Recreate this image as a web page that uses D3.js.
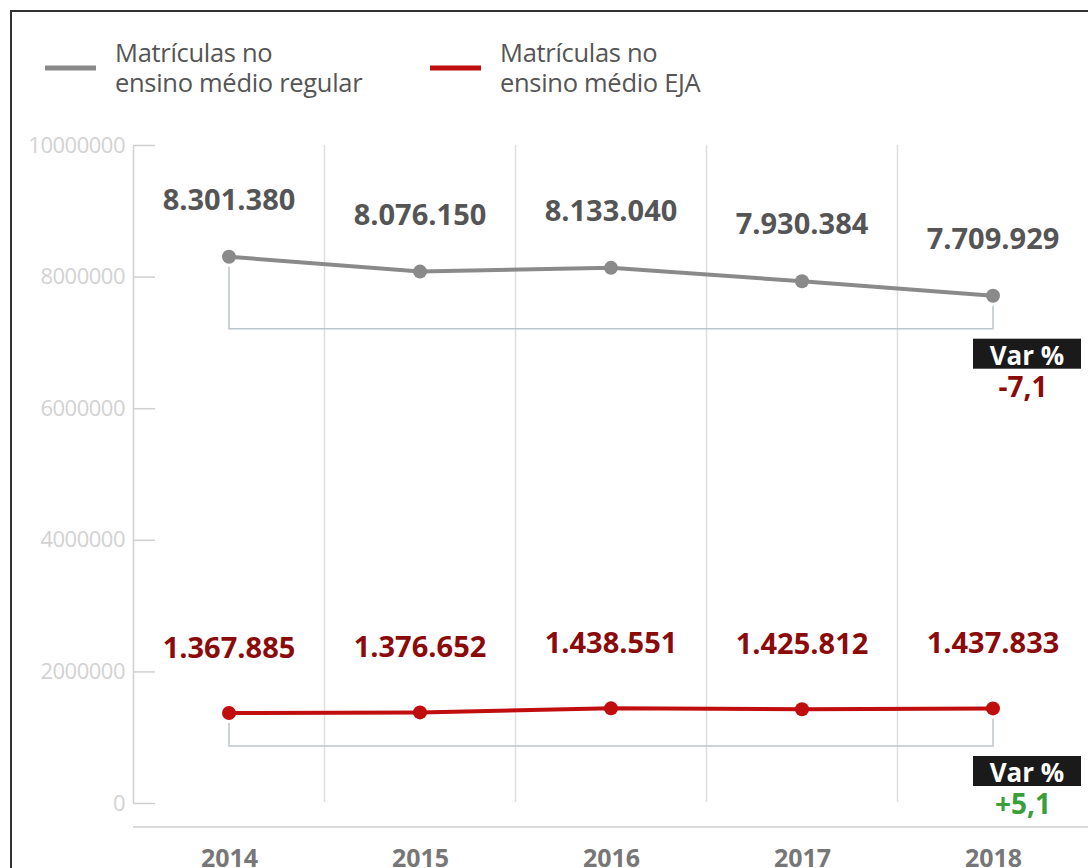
<!DOCTYPE html>
<html>
<head>
<meta charset="utf-8">
<script src="https://cdn.jsdelivr.net/npm/d3@7"></script>
<style>
  body { margin: 0; background: #fff; }
  svg { display: block; font-family: "Open Sans", sans-serif; }
</style>
</head>
<body>
<svg id="chart" width="1088" height="868"></svg>
<script>
// data
var years = ["2014", "2015", "2016", "2017", "2018"];
var regular = [8301380, 8076150, 8133040, 7930384, 7709929];
var eja = [1367885, 1376652, 1438551, 1425812, 1437833];
var yTicks = [0, 2000000, 4000000, 6000000, 8000000, 10000000];
var seriesNames = [["Matrículas no", "ensino médio regular"], ["Matrículas no", "ensino médio EJA"]];
var varLabels = ["-7,1", "+5,1"];

var GRAY = "#8a8a8a", RED = "#c00d0d";

var svg = d3.select("#chart");

// frame
svg.append("rect")
  .attr("x", 11).attr("y", 11)
  .attr("width", 1100).attr("height", 900)
  .attr("fill", "none").attr("stroke", "#333").attr("stroke-width", 2);

var x = d3.scalePoint().domain(years).range([229, 993]);
var y = d3.scaleLinear().domain([0, 10000000]).range([803, 145]);

// vertical separators between years
var step = x.step();
svg.append("g").selectAll("line")
  .data(years.slice(1))
  .enter().append("line")
  .attr("x1", d => x(d) - step / 2).attr("x2", d => x(d) - step / 2)
  .attr("y1", 145).attr("y2", 802)
  .attr("stroke", "#dedede").attr("stroke-width", 1.5);

// y axis
var yAxis = svg.append("g")
  .attr("transform", "translate(133,0)")
  .call(d3.axisLeft(y).tickValues(yTicks).tickFormat(d3.format("d"))
    .tickSize(-22).tickSizeOuter(0).tickPadding(8));
yAxis.select(".domain").attr("stroke", "#d0d0d0").attr("stroke-width", 1.5);
yAxis.selectAll(".tick line").attr("stroke", "#d0d0d0").attr("stroke-width", 1.5);
yAxis.selectAll(".tick text")
  .attr("fill", "#d2d2d2").attr("font-size", 22)
  .attr("letter-spacing", -0.5)
  .attr("font-family", "'Open Sans', sans-serif");

// x axis
var xAxis = svg.append("g")
  .attr("transform", "translate(0,827)")
  .call(d3.axisBottom(x).tickSize(0).tickPadding(22));
xAxis.select(".domain").attr("d", "M133,0H1088").attr("stroke", "#dcdcdc").attr("stroke-width", 2);
xAxis.selectAll(".tick text")
  .attr("fill", "#777").attr("font-size", 25).attr("font-weight", "bold")
  .attr("font-family", "'Open Sans', sans-serif");

// legend
[GRAY, RED].forEach(function (c, i) {
  var lx = i === 0 ? 45 : 430;
  svg.append("line")
    .attr("x1", lx).attr("x2", lx + 51).attr("y1", 68).attr("y2", 68)
    .attr("stroke", c).attr("stroke-width", 5);
  var t = svg.append("text")
    .attr("x", lx + 70).attr("y", 62)
    .attr("fill", "#555").attr("font-size", 25.5).attr("letter-spacing", -0.3);
  t.selectAll("tspan").data(seriesNames[i]).enter().append("tspan")
    .attr("x", lx + 70).attr("dy", (d, j) => j === 0 ? 0 : 30)
    .text(d => d);
});

var fmt = d3.format(",d");
function br(v) { return fmt(v).replace(/,/g, "."); }

function drawSeries(values, color, labelColor, labelOffset, varIdx, varColor) {
  var pts = values.map((v, i) => [x(years[i]), y(v)]);
  // bracket
  var by = d3.max(pts, p => p[1]) + 33;
  svg.append("path")
    .attr("d", "M" + x(years[0]) + "," + (pts[0][1] + 10) + "V" + by +
      "H" + x(years[years.length - 1]) + "V" + (pts[pts.length - 1][1] + 10))
    .attr("fill", "none").attr("stroke", "#bcc6cd").attr("stroke-width", 1.5);

  svg.append("path")
    .datum(values)
    .attr("d", d3.line().x((d, i) => x(years[i])).y(d => y(d)))
    .attr("fill", "none").attr("stroke", color).attr("stroke-width", 4);

  svg.append("g").selectAll("circle")
    .data(values).enter().append("circle")
    .attr("cx", (d, i) => x(years[i])).attr("cy", d => y(d))
    .attr("r", 7).attr("fill", color);

  svg.append("g").selectAll("text")
    .data(values).enter().append("text")
    .attr("x", (d, i) => x(years[i])).attr("y", d => y(d) - labelOffset)
    .attr("text-anchor", "middle").attr("font-size", 29).attr("font-weight", "bold")
    .attr("fill", labelColor)
    .text(d => br(d));

  // Var % badge
  var bx = 973, bTop = by + 10;
  svg.append("rect")
    .attr("x", bx).attr("y", bTop).attr("width", 108).attr("height", 30)
    .attr("fill", "#1a1a1a");
  svg.append("text")
    .attr("x", bx + 54).attr("y", bTop + 26)
    .attr("text-anchor", "middle").attr("font-size", 26).attr("font-weight", "bold")
    .attr("fill", "#fff").text("Var %");
  svg.append("text")
    .attr("x", bx + 50).attr("y", bTop + 58)
    .attr("text-anchor", "middle").attr("font-size", 28).attr("font-weight", "bold")
    .attr("fill", varColor).text(varLabels[varIdx]);
}

drawSeries(regular, GRAY, "#555", 47, 0, "#8b0a0a");
drawSeries(eja, RED, "#8b0a0a", 55, 1, "#3a9e3a");
</script>
</body>
</html>
